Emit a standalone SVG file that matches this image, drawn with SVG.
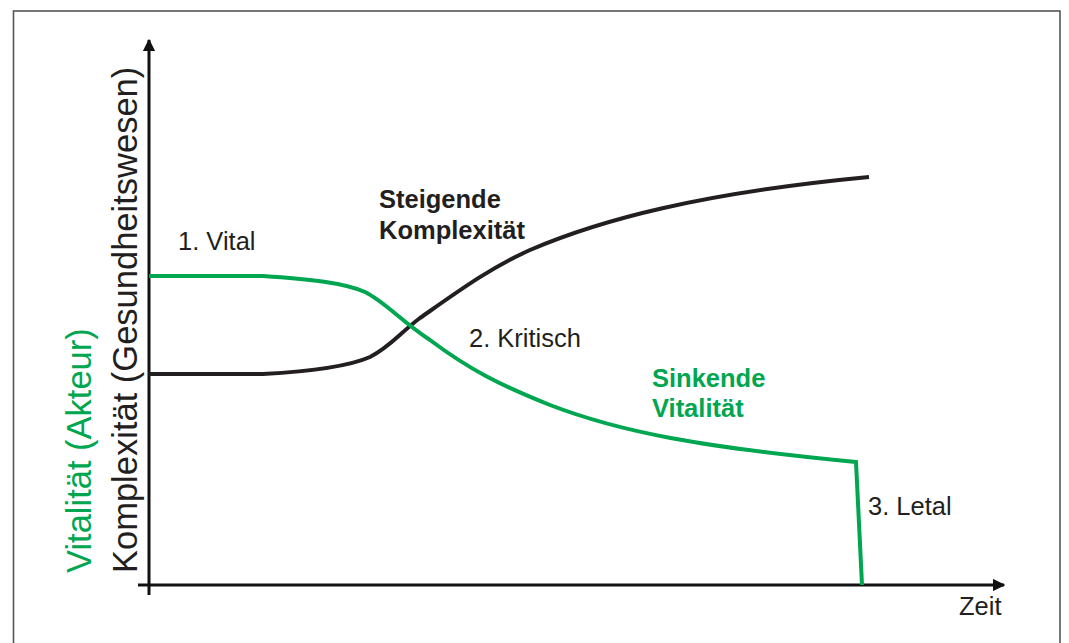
<svg xmlns="http://www.w3.org/2000/svg" width="1069" height="643" viewBox="0 0 1069 643">
  <style>
    .lbl { font-family: "Liberation Sans", Arial, sans-serif; font-size: 25.5px; fill: #231f20; }
    .bold { font-weight: bold; }
    .green { fill: #00a650; }
    .axislbl { font-family: "Liberation Sans", Arial, sans-serif; font-size: 34.5px; }
    .axis { stroke: #111; stroke-width: 3; fill: none; }
    .curve { stroke-width: 4; fill: none; stroke-linejoin: miter; }
  </style>
  <defs>
    <marker id="arrow" viewBox="0 0 10 10" refX="9" refY="5" markerWidth="4.2" markerHeight="4.2" orient="auto" markerUnits="strokeWidth">
      <path d="M0,0 L10,5 L0,10 Z" fill="#111"/>
    </marker>
  </defs>
  <rect x="0" y="0" width="1069" height="643" fill="#ffffff"/>
  <rect id="frame" x="13.5" y="11" width="1046.5" height="650" fill="none" stroke="#555" stroke-width="1.6"/>

  <g id="axes">
    <line class="axis" x1="149" y1="595" x2="149" y2="40" marker-end="url(#arrow)"/>
    <line class="axis" x1="138" y1="585" x2="1004" y2="585" marker-end="url(#arrow)"/>
  </g>

  <g id="connectors">
    <path id="komplexitaet-curve" class="curve" stroke="#231f20" d="M149,374 H263 C300,372 345,368 370,357 C390,347 400,333 420,318 C460,290 490,268 530,250 C600,220 700,193 869,177"/>
    <path id="vitalitaet-curve" class="curve" stroke="#00a650" d="M149,276 H263 C310,279 345,283 365,292 C385,302 400,320 430,340 C470,370 500,385 550,405 C620,432 700,447 856,462 L862,585"/>
  </g>

  <g id="y-label-komplexitaet">
    <text class="axislbl" fill="#231f20" transform="translate(137,573) rotate(-90)">Komplexität (Gesundheitswesen)</text>
  </g>
  <g id="y-label-vitalitaet">
    <text class="axislbl" fill="#00a650" transform="translate(91,573) rotate(-90)">Vitalität (Akteur)</text>
  </g>

  <g id="label-vital"><text class="lbl" x="178" y="250">1. Vital</text></g>
  <g id="label-steigende">
    <text class="lbl bold" x="379" y="208">Steigende</text>
    <text class="lbl bold" x="379" y="239">Komplexität</text>
  </g>
  <g id="label-kritisch"><text class="lbl" x="469" y="347">2. Kritisch</text></g>
  <g id="label-sinkende">
    <text class="lbl bold green" x="652" y="387">Sinkende</text>
    <text class="lbl bold green" x="652" y="417">Vitalität</text>
  </g>
  <g id="label-letal"><text class="lbl" x="868" y="515">3. Letal</text></g>
  <g id="label-zeit"><text class="lbl" x="959" y="615">Zeit</text></g>
</svg>
